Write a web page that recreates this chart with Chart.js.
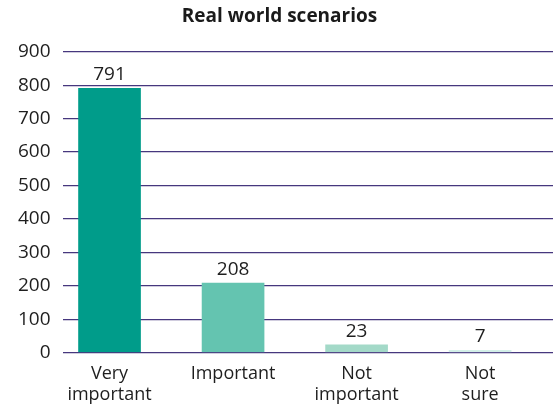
<!DOCTYPE html>
<html>
<head>
<meta charset="utf-8">
<script src="https://cdn.jsdelivr.net/npm/chart.js@4"></script>
<style>
  html, body { margin: 0; padding: 0; background: #fff; }
  #wrap { width: 553px; height: 410px; }
</style>
</head>
<body>
<div id="wrap"><canvas id="scenarioChart"></canvas></div>
<script>
const categories = [['Very', 'important'], 'Important', ['Not', 'important'], ['Not', 'sure']];
const responses = [791, 208, 23, 7];
const barColors = ['#009c8a', '#64c4b0', '#a3d9c8', '#d3efe8'];

// write the count above each bar
const valueLabels = {
    id: 'valueLabels',
    afterDatasetsDraw(chart) {
        const ctx = chart.ctx;
        const meta = chart.getDatasetMeta(0);
        ctx.save();
        ctx.font = '19px "Open Sans", sans-serif';
        ctx.fillStyle = '#1e1e1e';
        ctx.textAlign = 'center';
        ctx.textBaseline = 'bottom';
        meta.data.forEach((bar, i) => {
            ctx.fillText(responses[i], bar.x, bar.y - 4);
        });
        ctx.restore();
    }
};

new Chart(document.getElementById('scenarioChart').getContext('2d'), {
    type: 'bar',
    data: {
        datasets: [{
            data: responses.map((v, i) => ({ x: i, y: v })),
            backgroundColor: barColors,
            barThickness: 62
        }]
    },
    options: {
        responsive: true,
        maintainAspectRatio: false,
        animation: false,
        layout: { padding: { left: 6, right: 0, top: 0, bottom: 2 } },
        plugins: {
            legend: { display: false },
            tooltip: { enabled: false },
            title: {
                display: true,
                text: 'Real world scenarios',
                color: '#1a1a1a',
                font: { family: 'Open Sans', size: 19, weight: 'bold' },
                padding: { top: 5, bottom: 24 }
            }
        },
        scales: {
            y: {
                min: 0,
                max: 900,
                z: 1,
                border: { display: false },
                grid: { color: '#46377e', lineWidth: 1.3, drawTicks: false },
                ticks: {
                    stepSize: 100,
                    padding: 12,
                    color: '#1e1e1e',
                    font: { family: 'Open Sans', size: 19 }
                }
            },
            x: {
                type: 'linear',
                min: -0.38,
                max: 3.59,
                offset: false,
                border: { display: false },
                grid: { display: false },
                ticks: {
                    stepSize: 1,
                    includeBounds: false,
                    color: '#1e1e1e',
                    padding: 3,
                    maxRotation: 0,
                    autoSkip: false,
                    font: { family: 'Open Sans', size: 18, lineHeight: 1.15 },
                    callback: (value) => categories[value]
                }
            }
        }
    },
    plugins: [valueLabels]
});
</script>
</body>
</html>
